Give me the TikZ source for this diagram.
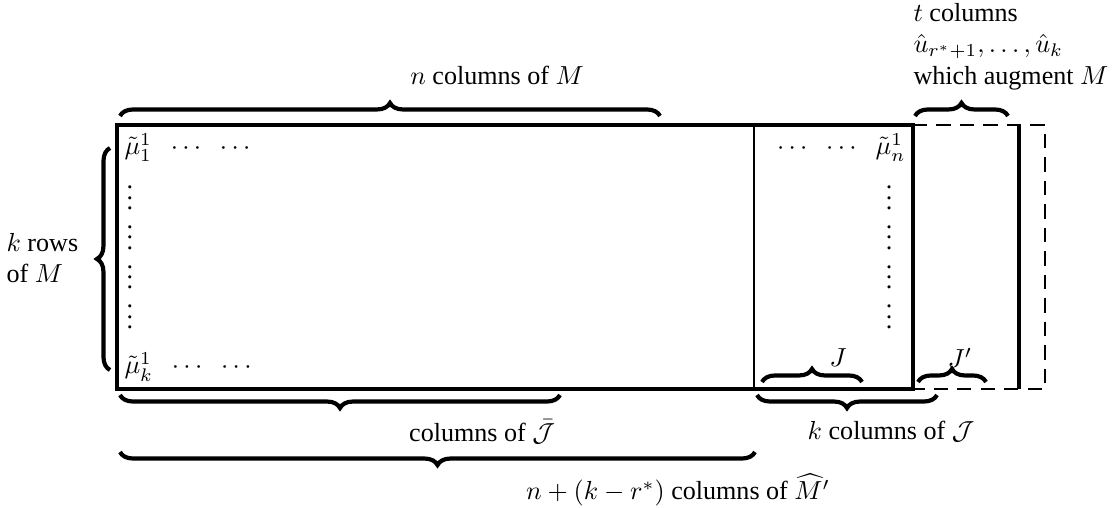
\documentclass[tikz,border=0pt]{standalone}
\usepackage{fontspec}
\setmainfont{Liberation Serif}
\usetikzlibrary{positioning, decorations.pathreplacing}

\begin{document}
\begin{tikzpicture}[
  x=0.01347cm, y=-0.01347cm,
  frameline/.style={line width=1.25pt},
  thinline/.style={line width=0.9pt},
  dashline/.style={line width=1.1pt, dash pattern=on 5.5pt off 3.5pt},
  braceup/.style={decorate, decoration={brace, amplitude=5pt}, line width=1.6pt},
  bracedown/.style={decorate, decoration={brace, amplitude=5pt, mirror}, line width=1.6pt},
  lbl/.style={inner sep=0pt, align=center},
  dotcol/.style={inner sep=0pt, align=center, anchor=north}
]
\useasboundingbox (0,0) rectangle (1119,508);

% corners of the matrix
\coordinate (nw) at (117,125);
\coordinate (ne) at (913,125);
\coordinate (sw) at (117,389);
\coordinate (se) at (913,389);
\coordinate (jtop) at (754,125);
\coordinate (jbot) at (754,389);
\coordinate (augtop) at (1019,125);
\coordinate (augbot) at (1019,389);
\coordinate (xne) at (1045,125);
\coordinate (xse) at (1045,389);

\draw[frameline] (nw) -- (ne) -- (se) -- (sw) -- cycle;
\draw[thinline] (jtop) -- (jbot);
\draw[frameline] (augtop) -- (augbot);
\draw[dashline] (ne) -- (xne) -- (xse) -- (se);

% entries
\node[inner sep=0pt, anchor=base west] (mufirst) at (124,155)
  {$\tilde{\mu}^1_1\;\;\cdots\;\;\cdots$};
\node[inner sep=0pt, anchor=base west] (mulast) at (124,374)
  {$\tilde{\mu}^1_k\;\;\cdots\;\;\cdots$};
\node[inner sep=0pt, anchor=base east] (mun) at (906,155)
  {$\cdots\;\;\cdots\;\;\tilde{\mu}^1_n$};
\node[dotcol] (leftdots) at (130,170)
  {$\vdots$\\[-1pt]$\vdots$\\[-1pt]$\vdots$\\[-1pt]$\vdots$};
\node[dotcol] (rightdots) at (889,170)
  {$\vdots$\\[-1pt]$\vdots$\\[-1pt]$\vdots$\\[-1pt]$\vdots$};

% braces
\coordinate (nleft) at (120,116);
\coordinate (nright) at (660,116);
\coordinate (tleft) at (915,116);
\coordinate (tright) at (1008,116);
\coordinate (rowbot) at (110,370);
\coordinate (rowtop) at (110,148);
\coordinate (jleft) at (762,382);
\coordinate (jright) at (862,382);
\coordinate (jpleft) at (918,382);
\coordinate (jpright) at (986,382);
\coordinate (barleft) at (120,395);
\coordinate (barright) at (560,395);
\coordinate (kleft) at (757,395);
\coordinate (kright) at (937,395);
\coordinate (allleft) at (120,452);
\coordinate (allright) at (755,452);

\draw[braceup] (nleft) -- (nright);
\draw[braceup] (tleft) -- (tright);
\draw[braceup] (rowbot) -- (rowtop);
\draw[braceup] (jleft) -- (jright);
\draw[braceup] (jpleft) -- (jpright);
\draw[bracedown] (barleft) -- (barright);
\draw[bracedown] (kleft) -- (kright);
\draw[bracedown] (allleft) -- (allright);

% labels
\node[lbl] (ncols) at (497,75) {$n$ columns of $M$};
\node[lbl, align=left, anchor=north west] (tcols) at (913,3)
  {$t$ columns\\ $\hat{u}_{r^*+1},\ldots,\hat{u}_k$\\ which augment $M$};
\node[lbl, align=left, anchor=west] (krows) at (6,258) {$k$ rows\\ of $M$};
\node[lbl] (jlab) at (838,358) {$J$};
\node[lbl] (jplab) at (960,358) {$J'$};
\node[lbl] (barcols) at (482,432) {columns of $\bar{\mathcal{J}}$};
\node[lbl] (kcols) at (891,432) {$k$ columns of $\mathcal{J}$};
\node[lbl] (allcols) at (678,490) {$n+(k-r^*)$ columns of $\widehat{M}'$};
\end{tikzpicture}
\end{document}
